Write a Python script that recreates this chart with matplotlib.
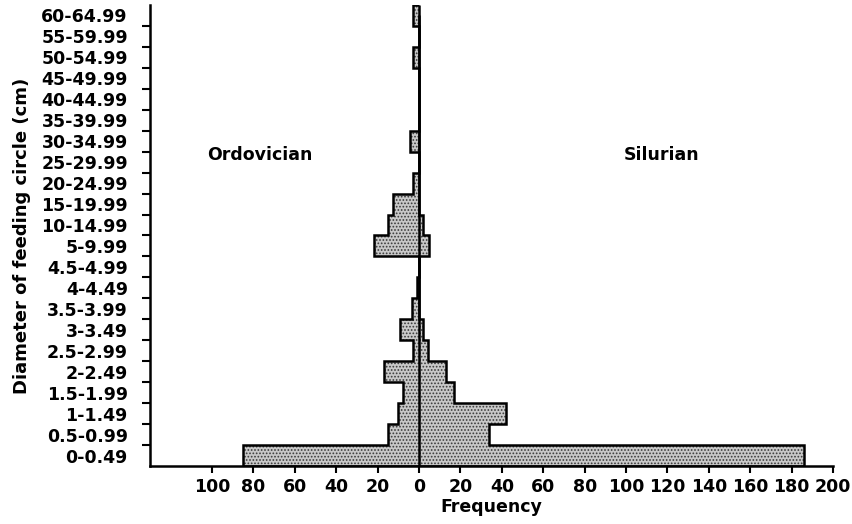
import matplotlib
matplotlib.use("Agg")
import matplotlib.pyplot as plt
import numpy as np

categories = ["0-0.49", "0.5-0.99", "1-1.49", "1.5-1.99", "2-2.49", "2.5-2.99",
              "3-3.49", "3.5-3.99", "4-4.49", "4.5-4.99", "5-9.99", "10-14.99",
              "15-19.99", "20-24.99", "25-29.99", "30-34.99", "35-39.99",
              "40-44.99", "45-49.99", "50-54.99", "55-59.99", "60-64.99"]
ordovician = [85, 15, 10, 8, 17, 3, 9, 3.5, 1, 0, 22, 15, 12.5, 3, 0, 4.5, 0, 0, 0, 3, 0, 3]
silurian = [186, 34, 42, 17, 13, 4.5, 2, 0, 0, 0, 5, 2, 0, 0, 0, 0, 0, 0, 0, 0, 0, 0]
xticks = [-100, -80, -60, -40, -20, 0, 20, 40, 60, 80, 100, 120, 140, 160, 180, 200]

plt.rcParams['font.family'] = ['DejaVu Sans']
plt.rcParams['font.weight'] = 'bold'
plt.rcParams['hatch.linewidth'] = 0.8
plt.rcParams['hatch.color'] = '#3a3a3a'

fig = plt.figure(figsize=(8.52, 5.24), dpi=100)
ax = fig.add_axes([150 / 852, 58 / 524, 683 / 852, 461 / 524])

n = len(categories)
edges = np.arange(n + 1)
ordo = np.array(ordovician, dtype=float)
silu = np.array(silurian, dtype=float)

for vals in (-ordo, silu):
    ax.stairs(vals, edges, orientation='horizontal', baseline=0, fill=True,
              facecolor='#c8c8c8', edgecolor='#3a3a3a', hatch='.....', linewidth=0)
    ax.stairs(vals, edges, orientation='horizontal', baseline=0, fill=False,
              edgecolor='black', linewidth=1.8)

ax.vlines(0, 0, n - 0.5, color='black', linewidth=1.8)

ax.set_xlim(-130, 200)
ax.set_ylim(0, n)

ax.spines['top'].set_visible(False)
ax.spines['right'].set_visible(False)
ax.spines['left'].set_linewidth(1.8)
ax.spines['bottom'].set_linewidth(1.8)

ax.set_xticks(xticks)
ax.set_xticklabels([str(abs(v)) for v in xticks], fontsize=12.5, fontweight='bold')
ax.tick_params(axis='x', direction='out', length=5, width=1.5, pad=4)

ax.set_yticks(np.arange(n) + 0.5)
ax.set_yticklabels(categories, fontsize=12.5, fontweight='bold')
ax.set_yticks(edges[1:-1], minor=True)
ax.tick_params(axis='y', which='major', length=0, pad=16)
ax.tick_params(axis='y', which='minor', direction='out', length=6, width=1.5)

ax.set_xlabel('Frequency', fontsize=12.5, fontweight='bold', labelpad=1)
ax.set_ylabel('Diameter of feeding circle (cm)', fontsize=13, fontweight='bold', labelpad=7)

ax.text(-77, 14.85, 'Ordovician', fontsize=12.5, fontweight='bold', ha='center', va='center')
ax.text(117, 14.85, 'Silurian', fontsize=12.5, fontweight='bold', ha='center', va='center')

fig.savefig('out.png', dpi=100)
